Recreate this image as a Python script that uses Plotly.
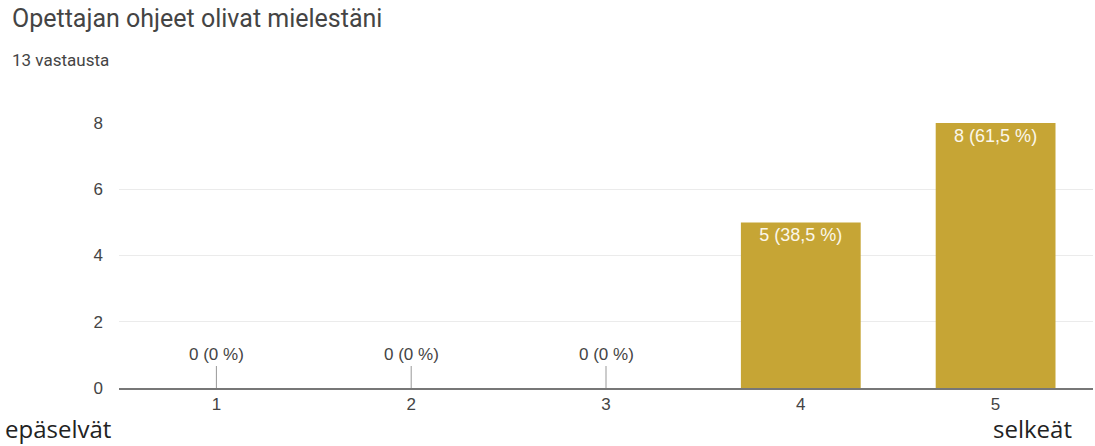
import plotly.graph_objects as go

categories = ["1", "2", "3", "4", "5"]
counts = [0, 0, 0, 5, 8]
labels = ["0 (0 %)", "0 (0 %)", "0 (0 %)", "5 (38,5 %)", "8 (61,5 %)"]
y_ticks = [0, 2, 4, 6, 8]

title_text = "Opettajan ohjeet olivat mielestäni"
subtitle_text = "13 vastausta"
left_label = "epäselvät"
right_label = "selkeät"

bar_color = "#c6a535"
tick_font = "Liberation Sans, Arial"

W, H = 1095, 446
ML, MR, MT, MB = 119, 2, 123, 58

fig = go.Figure()
fig.add_trace(go.Bar(
    x=categories, y=counts,
    marker=dict(color=bar_color, line=dict(width=0)),
    width=0.615,
    text=[l if c > 0 else "" for l, c in zip(labels, counts)],
    textposition="inside", insidetextanchor="end",
    textfont=dict(color="#fbf7ea", size=18, family=tick_font),
    hoverinfo="skip",
))

for i, (c, l) in enumerate(zip(counts, labels)):
    if c == 0:
        fig.add_annotation(
            x=i, y=0, xref="x", yref="y", text=l,
            showarrow=True, arrowhead=0, arrowwidth=1, arrowcolor="#999",
            ax=0, ay=-22, yanchor="bottom",
            font=dict(size=17, color="#444", family=tick_font),
        )

fig.update_layout(
    width=W, height=H,
    margin=dict(l=ML, r=MR, t=MT, b=MB),
    paper_bgcolor="white", plot_bgcolor="white",
    showlegend=False,
    xaxis=dict(
        type="category", showgrid=False, ticks="",
        tickfont=dict(size=17, color="#444", family=tick_font),
        showline=True, linecolor="#777", linewidth=2,
        zeroline=False,
    ),
    yaxis=dict(
        range=[0, 8], tickvals=y_ticks, showgrid=True, gridcolor="#ebebeb", gridwidth=1,
        zeroline=False, ticks="", ticklabelstandoff=15,
        tickfont=dict(size=17, color="#444", family=tick_font),
    ),
)

def px_x(px):
    return (px - ML) / (W - ML - MR)

def px_y(py):
    return (H - MB - py) / (H - MT - MB)

fig.add_annotation(x=px_x(10), y=px_y(18), xref="paper", yref="paper",
                   text=title_text, showarrow=False, xanchor="left", yanchor="middle",
                   font=dict(size=25, color="#444", family="Roboto, Arial"))
fig.add_annotation(x=px_x(10), y=px_y(60), xref="paper", yref="paper",
                   text=subtitle_text, showarrow=False, xanchor="left", yanchor="middle",
                   font=dict(size=17, color="#444", family="Roboto, Arial"))
fig.add_annotation(x=px_x(3), y=px_y(428), xref="paper", yref="paper",
                   text=left_label, showarrow=False, xanchor="left", yanchor="middle",
                   font=dict(size=24, color="#222", family="Open Sans, DejaVu Sans"))
fig.add_annotation(x=px_x(1074), y=px_y(428), xref="paper", yref="paper",
                   text=right_label, showarrow=False, xanchor="right", yanchor="middle",
                   font=dict(size=24, color="#222", family="Open Sans, DejaVu Sans"))

fig.write_html("out.html", config={"displayModeBar": False},
               post_script="document.body.style.margin='0px';document.body.style.overflow='hidden';")
